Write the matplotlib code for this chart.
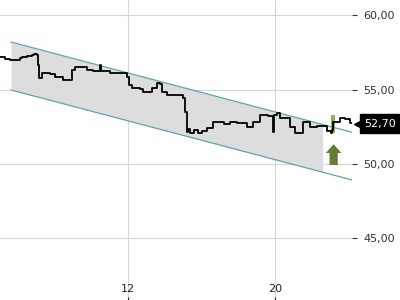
import numpy as np
import matplotlib
matplotlib.use("Agg")
import matplotlib.pyplot as plt
from matplotlib.transforms import blended_transform_factory

# price path (day, price), drawn as a step line
days = [5.03, 5.30, 5.57, 5.74, 5.96, 6.10, 6.23, 6.50, 6.77, 6.90, 7.04,
        7.12, 7.15, 7.32, 7.75, 8.02, 8.46, 8.95, 9.11, 9.76, 10.09, 10.47,
        10.55, 10.64, 11.02, 11.94, 12.05, 12.21, 12.65, 12.81, 13.19, 13.30,
        13.57, 13.74, 13.85, 14.12, 14.99, 15.10, 15.21, 15.25, 15.37, 15.60,
        15.80, 16.00, 16.30, 16.62, 16.84, 17.20, 17.55, 17.93, 18.47, 18.80,
        19.18, 19.60, 19.89, 19.95, 20.10, 20.27, 20.81, 21.08, 21.52, 21.90,
        22.30, 22.83, 23.04, 23.10, 23.15, 23.53, 23.80, 24.08, 24.19]
prices = [57.18, 57.05, 56.95, 57.00, 56.98, 57.10, 57.18, 57.25, 57.32, 57.40, 57.30,
          56.64, 55.75, 56.11, 56.05, 55.84, 55.64, 56.31, 56.51, 56.31, 56.24, 56.64,
          56.24, 56.24, 56.11, 55.84, 55.30, 55.10, 55.05, 54.83, 54.85, 55.10,
          55.44, 55.40, 54.83, 54.63, 54.43, 53.49, 52.15, 52.35, 52.08, 52.30,
          52.05, 52.20, 52.42, 52.82, 52.82, 52.70, 52.82, 52.75, 52.48, 52.82,
          53.29, 53.20, 52.15, 53.29, 53.42, 53.09, 52.48, 52.08, 52.82, 52.48,
          52.55, 52.20, 52.08, 52.25, 52.82, 53.09, 53.00, 52.75, 52.75]
last_price = 52.70

# trend channel
chan_x = [5.63, 24.19]
chan_upper = [58.19, 52.13]
chan_lower = [54.97, 48.93]
fill_end = 22.59

# buy signal
signal_day = 23.17
signal_low, signal_high = 52.08, 53.29
arrow_base, arrow_tip = 49.93, 51.32

yticks = [45, 50, 55, 60]
xticks = [12, 20]

fig = plt.figure(figsize=(4, 3), dpi=100)
ax = fig.add_axes([0, 0, 0.88, 1])
ax.set_xlim(5.03, 24.19)
ax.set_ylim(40.87, 61.01)

for s in ax.spines.values():
    s.set_visible(False)
ax.grid(True, color="#d6d6d6", lw=0.8)
ax.set_axisbelow(True)

# shaded channel
fx = np.linspace(chan_x[0], fill_end, 50)
up = np.interp(fx, chan_x, chan_upper)
lo = np.interp(fx, chan_x, chan_lower)
ax.fill_between(fx, lo, up, color="#dddddd", lw=0, zorder=1)
ax.plot(chan_x, chan_upper, color="#62a3ab", lw=0.9, zorder=2)
ax.plot(chan_x, chan_lower, color="#62a3ab", lw=0.9, zorder=2)

# signal candle + price
ax.vlines(signal_day, signal_low, signal_high, color="#9aab5c", lw=3, zorder=3)
ax.step(days, prices, where="post", color="black", lw=1.3, zorder=4)

# arrow
ax.arrow(signal_day + 0.02, arrow_base, 0, arrow_tip - arrow_base, width=0.45,
         head_width=0.85, head_length=0.58, length_includes_head=True,
         color="#667b34", lw=0, zorder=5)

# axis ticks
ax.yaxis.tick_right()
ax.set_yticks(yticks)
ax.set_yticklabels([("%.2f" % v).replace(".", ",") for v in yticks])
ax.tick_params(axis="y", direction="out", length=3.6, pad=4.3, labelsize=8,
               colors="#333333")
ax.set_xticks(xticks)
ax.set_xticklabels([str(v) for v in xticks])
ax.tick_params(axis="x", direction="in", length=2.5, pad=-11.5, labelsize=8,
               colors="#222222")

# last price tag
tr = blended_transform_factory(ax.transAxes, ax.transData)
ax.plot([1.0 + 9 / 352], [last_price], marker="<", ms=10, color="black",
        transform=tr, clip_on=False, zorder=6)
ax.text(1.0 + 12 / 352, last_price, ("%.2f" % last_price).replace(".", ","),
        transform=tr, color="white", fontsize=8, va="center", ha="left",
        bbox=dict(boxstyle="square,pad=0.4", fc="black", ec="black"),
        clip_on=False, zorder=6)

fig.savefig("out.png", dpi=100)
